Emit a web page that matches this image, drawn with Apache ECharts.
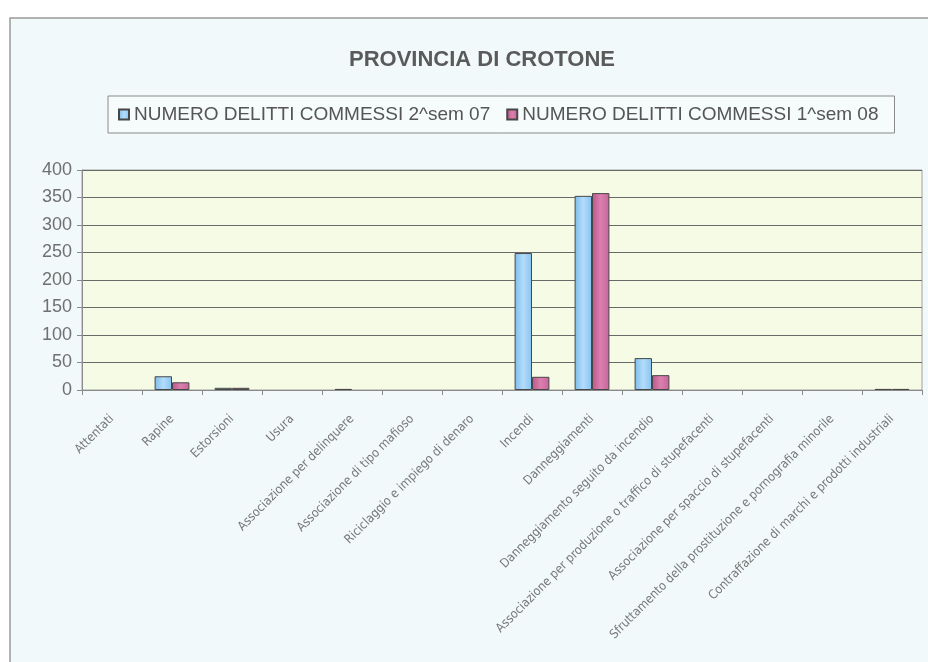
<!DOCTYPE html>
<html lang="it">
<head>
<meta charset="UTF-8">
<title>Provincia di Crotone</title>
<script src="https://cdn.jsdelivr.net/npm/echarts@6/dist/echarts.min.js"></script>
<style>
  html, body { margin: 0; padding: 0; background: #ffffff; }
  #chart { width: 928px; height: 662px; }
</style>
</head>
<body>
<div id="chart"></div>
<script type="text/javascript">
// categorie (tipi di reato)
var categorie = [
  'Attentati',
  'Rapine',
  'Estorsioni',
  'Usura',
  'Associazione per delinquere',
  'Associazione di tipo mafioso',
  'Riciclaggio e impiego di denaro',
  'Incendi',
  'Danneggiamenti',
  'Danneggiamento seguito da incendio',
  'Associazione per produzione o traffico di stupefacenti',
  'Associazione per spaccio di stupefacenti',
  'Sfruttamento della prostituzione e pornografia minorile',
  'Contraffazione di marchi e prodotti industriali'
];
var nomeSem07 = 'NUMERO DELITTI COMMESSI 2^sem 07';
var nomeSem08 = 'NUMERO DELITTI COMMESSI 1^sem 08';
var delittiSem07 = [0, 25, 4, 0, 2, 0, 0, 249, 353, 58, 0, 0, 0, 2];
var delittiSem08 = [0, 14, 4, 0, 0, 0, 0, 24, 358, 27, 0, 0, 0, 2];
var tickY = [0, 400, 50]; // min, max, passo

var chart = echarts.init(document.getElementById('chart'));

function sfumatura(c1, c2, c3) {
  return new echarts.graphic.LinearGradient(0, 0, 1, 0, [
    { offset: 0, color: c1 },
    { offset: 0.5, color: c2 },
    { offset: 1, color: c3 }
  ]);
}

// le barre a zero non devono disegnare il bordo
function senzaBordoZero(arr) {
  return arr.map(function (v) {
    return v === 0 ? { value: v, itemStyle: { borderWidth: 0 } } : v;
  });
}

var option = {
  backgroundColor: '#ffffff',
  animation: false,
  graphic: [{
    type: 'rect',
    z: -100,
    silent: true,
    shape: { x: 10, y: 18, width: 930, height: 660 },
    style: { fill: '#f2f9fa', stroke: '#9a9a9a', lineWidth: 1.5 }
  }],
  title: {
    text: 'PROVINCIA DI CROTONE',
    left: 477,
    top: 44,
    textAlign: 'center',
    textStyle: {
      fontFamily: "'Liberation Sans', Arial, sans-serif",
      fontSize: 22,
      fontWeight: 'bold',
      color: '#5a5a5a'
    }
  },
  legend: {
    left: 108,
    top: 96,
    padding: [9, 16, 9, 10],
    itemGap: 16,
    itemWidth: 10,
    itemHeight: 10,
    icon: 'rect',
    borderColor: '#8a8a8a',
    borderWidth: 1,
    backgroundColor: '#f6fbfb',
    textStyle: {
      fontFamily: "'Liberation Sans', Arial, sans-serif",
      fontSize: 19,
      color: '#555555'
    },
    data: [nomeSem07, nomeSem08]
  },
  grid: {
    left: 82,
    right: 6,
    top: 170,
    bottom: 272,
    show: true,
    backgroundColor: '#f6fbe5',
    borderColor: '#a0a0a0',
    borderWidth: 1
  },
  xAxis: {
    type: 'category',
    data: categorie,
    axisLine: { lineStyle: { color: '#8a8a8a' } },
    axisTick: { show: true, length: 5, interval: 0, lineStyle: { color: '#8a8a8a' } },
    axisLabel: {
      interval: 0,
      rotate: 45,
      margin: 27,
      fontFamily: "'Liberation Sans Narrow', 'DejaVu Sans Condensed', sans-serif",
      fontSize: 12.5,
      color: '#777777'
    }
  },
  yAxis: {
    type: 'value',
    min: tickY[0],
    max: tickY[1],
    interval: tickY[2],
    axisLine: { show: true, lineStyle: { color: '#8a8a8a' } },
    axisTick: { show: true, length: 5, lineStyle: { color: '#8a8a8a' } },
    axisLabel: {
      fontFamily: "'Liberation Sans', Arial, sans-serif",
      fontSize: 18,
      color: '#707070',
      margin: 10
    },
    splitLine: { lineStyle: { color: '#6a6a6a', width: 1.2 } }
  },
  series: [
    {
      name: nomeSem07,
      type: 'bar',
      data: senzaBordoZero(delittiSem07),
      barGap: '0%',
      barCategoryGap: '42%',
      itemStyle: {
        color: sfumatura('#7cbcec', '#b4dcfb', '#86c3f0'),
        borderColor: '#474747',
        borderWidth: 1
      }
    },
    {
      name: nomeSem08,
      type: 'bar',
      data: senzaBordoZero(delittiSem08),
      itemStyle: {
        color: sfumatura('#b9588b', '#dc7fae', '#c4659a'),
        borderColor: '#474747',
        borderWidth: 1
      }
    }
  ]
};

chart.setOption(option);
</script>
</body>
</html>
